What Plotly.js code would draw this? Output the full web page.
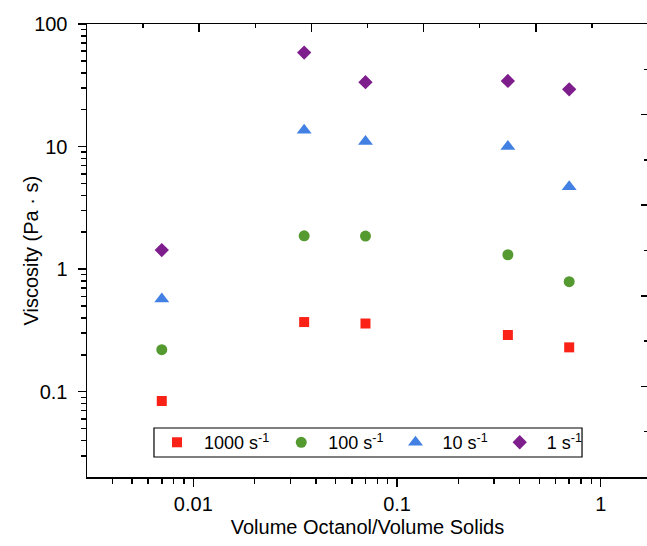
<!DOCTYPE html>
<html>
<head>
<meta charset="utf-8">
<script src="https://cdn.plot.ly/plotly-3.0.1.min.js"></script>
<style>
  html, body { margin: 0; padding: 0; background: #ffffff; overflow: hidden; }
  #chart { width: 660px; height: 546px; }
</style>
</head>
<body>
<div id="chart"></div>
<script>
// Volume fraction of octanol relative to solids
const volumeRatio = [0.007, 0.035, 0.07, 0.35, 0.7];

// Viscosity (Pa·s) at each shear rate
const visc1000 = [0.084, 0.37, 0.36, 0.29, 0.23];
const visc100  = [0.22, 1.87, 1.86, 1.31, 0.79];
const visc10   = [0.57, 13.6, 11.0, 10.0, 4.7];
const visc1    = [1.43, 58.5, 33.5, 34.3, 29.3];

const seriesNames = ['1000 s<sup>-1</sup>', '100 s<sup>-1</sup>', '10 s<sup>-1</sup>', '1 s<sup>-1</sup>'];
const seriesColors = ['#FA2117', '#559A31', '#4281E3', '#7E1E8C'];

const xTickVals = [0.01, 0.1, 1];
const xTickText = ['0.01', '0.1', '1'];
const yTickVals = [0.1, 1, 10, 100];
const yTickText = ['0.1', '1', '10', '100'];

const FONT = 'Arial, "Liberation Sans", sans-serif';
const INK = '#000000';

function series(y, i, symbol, size) {
  return {
    type: 'scatter', mode: 'markers',
    x: volumeRatio, y: y, name: seriesNames[i],
    marker: { symbol: symbol, size: size, color: seriesColors[i], line: { width: 0 } },
    hoverinfo: 'x+y'
  };
}

const traces = [
  series(visc1000, 0, 'square', 10),
  series(visc100, 1, 'circle', 11),
  series(visc10, 2, 'triangle-up', 13),
  series(visc1, 3, 'diamond', 11),
  // empty trace that carries the top/right frame axes
  { type: 'scatter', mode: 'markers', x: [], y: [], xaxis: 'x2', yaxis: 'y2', showlegend: false, hoverinfo: 'skip' }
];

const layout = {
  width: 660, height: 546,
  margin: { l: 87, r: 12, t: 24, b: 69 },
  paper_bgcolor: '#ffffff', plot_bgcolor: '#ffffff',
  font: { family: FONT, color: INK, size: 20 },
  showlegend: true,
  legend: {
    orientation: 'h',
    x: 0.1123, xanchor: 'left',
    y: 0.076, yanchor: 'middle',
    bgcolor: 'rgba(0,0,0,0)', borderwidth: 0,
    font: { family: FONT, size: 18, color: INK },
    itemwidth: 44
  },
  shapes: [{
    type: 'rect', xref: 'paper', yref: 'paper',
    x0: 0.1194, x1: 0.8824, y0: 0.0442, y1: 0.1082,
    line: { color: INK, width: 1.2 }, fillcolor: '#ffffff', layer: 'below'
  }],
  annotations: [{
    text: 'Viscosity (Pa · s)', textangle: -90,
    xref: 'paper', yref: 'paper', x: -0.1016, y: 0.5,
    xanchor: 'center', yanchor: 'middle', showarrow: false,
    font: { family: FONT, size: 20, color: INK }
  }],
  xaxis: {
    type: 'log', range: [-2.522, 0.232],
    showgrid: false, zeroline: false,
    showline: true, linecolor: INK, linewidth: 1.5,
    ticks: 'outside', ticklen: 8, tickwidth: 1.5, tickcolor: INK,
    tickmode: 'array', tickvals: xTickVals, ticktext: xTickText,
    tickfont: { family: FONT, size: 20, color: INK },
    minor: { ticks: 'outside', ticklen: 5, tickwidth: 1.5, tickcolor: INK, dtick: 'D1', showgrid: false },
    title: { text: 'Volume Octanol/Volume Solids', font: { family: FONT, size: 20, color: INK }, standoff: 6 }
  },
  yaxis: {
    type: 'log', range: [-1.696, 2],
    showgrid: false, zeroline: false,
    showline: true, linecolor: INK, linewidth: 1.5,
    ticks: 'outside', ticklen: 8, tickwidth: 1.5, tickcolor: INK,
    tickmode: 'array', tickvals: yTickVals, ticktext: yTickText,
    ticklabelstandoff: 6,
    tickfont: { family: FONT, size: 20, color: INK },
    minor: { ticks: 'outside', ticklen: 5, tickwidth: 1.5, tickcolor: INK, dtick: 'D1', showgrid: false }
  },
  xaxis2: {
    overlaying: 'x', side: 'top', anchor: 'y2',
    range: [0, 5], dtick: 1, showticklabels: false,
    showgrid: false, zeroline: false,
    showline: true, linecolor: INK, linewidth: 1.5,
    ticks: 'inside', ticklen: 8, tickwidth: 1.5, tickcolor: INK,
    minor: { ticks: 'inside', ticklen: 4, tickwidth: 1.5, tickcolor: INK, dtick: 0.5, showgrid: false }
  },
  yaxis2: {
    overlaying: 'y', side: 'right', anchor: 'x2',
    range: [0, 5], dtick: 1, showticklabels: false,
    showgrid: false, zeroline: false,
    showline: true, linecolor: INK, linewidth: 1.5,
    ticks: 'inside', ticklen: 7, tickwidth: 1.5, tickcolor: INK,
    minor: { ticks: 'inside', ticklen: 4, tickwidth: 1.5, tickcolor: INK, dtick: 0.5, showgrid: false }
  }
};

Plotly.newPlot('chart', traces, layout, { displayModeBar: false, staticPlot: true });
</script>
</body>
</html>
